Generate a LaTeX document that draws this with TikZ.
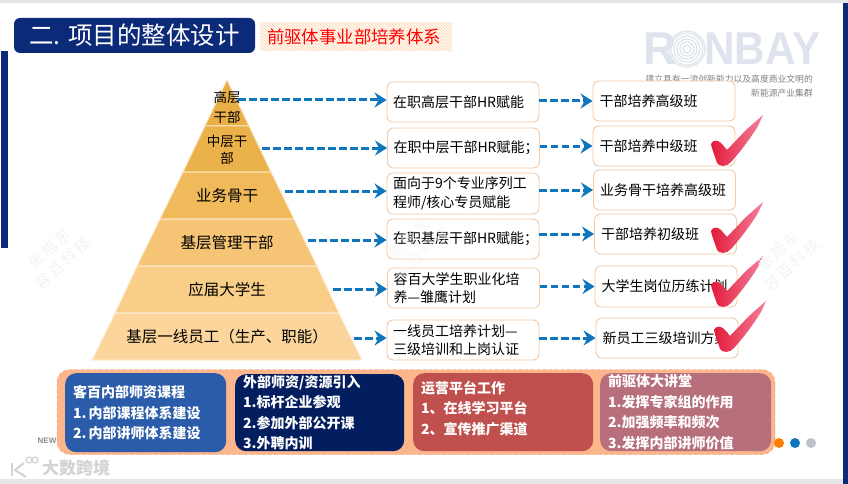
\documentclass[tikz,border=0pt]{standalone}
\usepackage{xcolor}
\usepackage{fontspec}
\setmainfont{Noto Sans CJK SC}
\newfontfamily\logofont{Liberation Sans}
\usetikzlibrary{arrows.meta,patterns}

\definecolor{navy}{HTML}{0B2A78}
\definecolor{flowblue}{HTML}{0F75BC}
\definecolor{boxedge}{HTML}{F6C9A6}
\definecolor{logogray}{HTML}{DFE3ED}
\definecolor{peach}{HTML}{FDB58B}
\definecolor{markgray}{HTML}{F3F3F3}
\definecolor{pyrA}{HTML}{E9AE45}
\definecolor{pyrB}{HTML}{EBB14A}
\definecolor{pyrC}{HTML}{F0BA5B}
\definecolor{pyrD}{HTML}{F5C475}
\definecolor{pyrE}{HTML}{F9CE88}
\definecolor{pyrF}{HTML}{FBD59B}
\definecolor{cardA}{HTML}{2A5CAA}
\definecolor{cardB}{HTML}{031E5F}
\definecolor{cardC}{HTML}{C0504D}
\definecolor{cardD}{HTML}{B7707B}
\definecolor{tickred}{HTML}{E31B3A}
\definecolor{tickpink}{HTML}{F4809A}

\newcommand{\fsize}[2]{\fontsize{#1}{#2}\selectfont}

\begin{document}
\begin{tikzpicture}[
  x=1pt, y=-1pt,
  lvl/.style={draw=#1!35!white, line width=1pt, fill=#1},
  lvltext/.style={align=center, inner sep=0pt, font=\fsize{15.5}{20}},
  planbox/.style={
    draw=boxedge,
    line width=0.9pt,
    fill=white,
    rounded corners=6pt,
    align=left,
    text width=140pt,
    minimum height=40pt,
    inner xsep=6pt,
    inner ysep=0pt,
    font=\fsize{14}{18.5}
  },
  classbox/.style={planbox, text width=129pt, inner xsep=6.5pt},
  flow/.style={
    -{Stealth[length=12pt,width=15pt,inset=4pt]},
    flowblue,
    line width=3pt,
    dash pattern=on 7.5pt off 3.5pt
  },
  teamcard/.style={
    rounded corners=11pt,
    fill=#1,
    text=white,
    align=left,
    anchor=north west,
    inner ysep=0pt,
    inner xsep=8pt,
    font=\fsize{14}{20.5}\bfseries
  },
  stamp/.style={
    rotate=42,
    text=markgray,
    align=center,
    font=\fsize{15}{20}\addfontfeature{LetterSpace=18}
  },
  redtick/.pic={
    \shade[left color=tickred, right color=tickpink, line join=round]
      (-11,-22) .. controls (-9,-27) and (-3,-26) .. (0,-22)
      -- (5,-16) -- (24,-36) -- (41,-51) -- (36,-40)
      .. controls (28,-27) and (18,-14) .. (9,-4)
      .. controls (5,1) and (-3,1) .. (-5,-3)
      .. controls (-7,-10) and (-10,-16) .. (-11,-22) -- cycle;
  }
]
  \useasboundingbox (0,0) rectangle (848,484);
  \fill[white] (0,0) rectangle (848,484);
  \fill[black!10] (0,0) rectangle (848,3);
  \fill[black!10] (0,479) rectangle (848,484);
  \fill[navy] (843,3) rectangle (848,484);
  \fill[navy] (1,51) rectangle (8,248);

  % heading
  \node[fill=navy, rounded corners=6pt, minimum width=241pt, minimum height=35pt, inner sep=0pt,
    text=white, font=\fsize{24.5}{26}] (heading) at (134.5,35.5) {二. 项目的整体设计};
  \node[pattern=north west lines, pattern color=orange!40, minimum width=192pt, minimum height=28pt,
    inner sep=0pt] (subband) at (356,37) {};
  \node[text=red, inner sep=0pt, font=\fsize{17.4}{20}] (subhead) at (354,37) {前驱体事业部培养体系};

  % logo
  \node[logogray, inner sep=0pt, font=\logofont\bfseries\fsize{46}{46}] (logoR) at (660,49) {R};
  \foreach \r in {4,7,10,13,16,18}
    \draw[logogray, line width=1.2pt] (687,49) circle (\r);
  \node[logogray, inner sep=0pt, anchor=west, transform shape, xscale=0.92,
    font=\logofont\bfseries\fsize{46}{46}] (logoNbay) at (704,49) {NBAY};
  \node[text=black!50, inner sep=0pt, anchor=north east, align=right, font=\fsize{8.8}{14}] (motto)
    at (813,75) {建立具有一流创新能力以及高度商业文明的\\新能源产业集群};

  % pyramid
  \path[lvl=pyrA] (227,80) -- (249,126) -- (205,126) -- cycle;
  \path[lvl=pyrB] (205,126) -- (249,126) -- (271,172) -- (183,172) -- cycle;
  \path[lvl=pyrC] (183,172) -- (271,172) -- (294,219) -- (160,219) -- cycle;
  \path[lvl=pyrD] (160,219) -- (294,219) -- (317,266) -- (137,266) -- cycle;
  \path[lvl=pyrE] (137,266) -- (317,266) -- (339,313) -- (115,313) -- cycle;
  \path[lvl=pyrF] (115,313) -- (339,313) -- (362,360) -- (92,360) -- cycle;

  \node[lvltext, font=\fsize{13.5}{20}] (senior) at (227,107) {高层\\干部};
  \node[lvltext, font=\fsize{13.5}{17}] (middle) at (227,150) {中层干\\部};
  \node[lvltext] (backbone) at (227,196) {业务骨干};
  \node[lvltext] (junior) at (227,243) {基层管理干部};
  \node[lvltext] (graduate) at (227,290) {应届大学生};
  \node[lvltext] (frontline) at (227,337) {基层一线员工（生产、职能）};

  \coordinate (seniorEdge) at (238,100);
  \coordinate (middleEdge) at (262,148);
  \coordinate (backboneEdge) at (285,191);
  \coordinate (juniorEdge) at (308,240);
  \coordinate (graduateEdge) at (333,289);
  \coordinate (frontlineEdge) at (354,338);

  % training plans
  \node[planbox] (seniorPlan) at (463,102) {在职高层干部HR赋能};
  \node[planbox] (middlePlan) at (463.5,148) {在职中层干部HR赋能；};
  \node[planbox, minimum height=41pt] (backbonePlan) at (463,193.5) {面向于9个专业序列工\\程师/核心专员赋能};
  \node[planbox] (juniorPlan) at (463,239) {在职基层干部HR赋能；};
  \node[planbox] (graduatePlan) at (463.5,288) {容百大学生职业化培\\养—雏鹰计划};
  \node[planbox] (frontlinePlan) at (463,340) {一线员工培养计划—\\三级培训和上岗认证};

  % classes
  \node[classbox] (seniorClass) at (664,101) {干部培养高级班};
  \node[classbox] (middleClass) at (664,146) {干部培养中级班};
  \node[classbox] (backboneClass) at (664.5,190) {业务骨干培养高级班};
  \node[classbox] (juniorClass) at (665.5,234) {干部培养初级班};
  \node[classbox, minimum height=41pt] (graduateClass) at (666,286.5) {大学生岗位历练计划};
  \node[classbox] (frontlineClass) at (667,338) {新员工三级培训方案};

  \draw[flow] (seniorEdge) -- (seniorPlan.west |- seniorEdge);
  \draw[flow] (middleEdge) -- (middlePlan.west |- middleEdge);
  \draw[flow] (backboneEdge) -- (backbonePlan.west |- backboneEdge);
  \draw[flow] (juniorEdge) -- (juniorPlan.west |- juniorEdge);
  \draw[flow] (graduateEdge) -- (graduatePlan.west |- graduateEdge);
  \draw[flow] (frontlineEdge) -- (frontlinePlan.west |- frontlineEdge);

  \draw[flow] (seniorPlan.east |- seniorClass.west) -- (seniorClass.west);
  \draw[flow] (middlePlan.east |- middleClass.west) -- (middleClass.west);
  \draw[flow] (backbonePlan.east |- backboneClass.west) -- (backboneClass.west);
  \draw[flow] (juniorPlan.east |- juniorClass.west) -- (juniorClass.west);
  \draw[flow] (graduatePlan.east |- graduateClass.west) -- (graduateClass.west);
  \draw[flow] (frontlinePlan.east |- frontlineClass.west) -- (frontlineClass.west);

  \pic at (722,166) {redtick};
  \pic at (722,253) {redtick};
  \pic at (722,307) {redtick};
  \pic at (725,352) {redtick};

  % support band
  \node[draw=brown!70!pink, fill=peach, dashed, rounded corners=13pt, minimum width=718pt, minimum height=85pt,
    inner sep=0pt] (band) at (416,412) {};
  \node[teamcard=cardA, text width=145pt, minimum height=79pt] (inhouse) at (65,373)
    {客百内部师资课程\\1.\hspace{2pt}内部课程体系建设\\2.\hspace{2pt}内部讲师体系建设};
  \node[teamcard=cardB, text width=153pt, minimum height=77pt] (external) at (235,374)
    {外部师资/资源引入\\1.标杆企业参观\\2.参加外部公开课\\3.外聘内训};
  \node[teamcard=cardC, text width=164pt, minimum height=78pt] (platform) at (413,373)
    {运营平台工作\\1、在线学习平台\\2、宣传推广渠道\\[-11pt]\mbox{}};
  \node[teamcard=cardD, text width=155pt, minimum height=78pt] (lecture) at (600,373)
    {前驱体大讲堂\\1.发挥专家组的作用\\2.加强频率和频次\\3.发挥内部讲师价值};

  \node[text=black!45, inner sep=0pt, font=\logofont\bfseries\fsize{8}{8}] (newmark) at (47,441) {NEW};
  \fill[orange] (779,443) circle (5);
  \fill[flowblue] (795,443) circle (5);
  \fill[logogray!85!black] (811,443) circle (5);

  % corner mark
  \draw[black!17, line width=2pt] (12,463) -- (12,476);
  \draw[black!17, line width=2pt] (24,463) -- (15,470) -- (26,477);
  \draw[black!17, line width=1.2pt] (29,460) circle (3) (35,460) circle (3);
  \node[text=black!17, inner sep=0pt, anchor=west, font=\fsize{17}{20}\bfseries] (cornertext) at (42,468) {大数跨境};

  % stamps
  \node[stamp] (stampL) at (56,256) {张旭东\\容百科技};
  \node[stamp, opacity=0.6] (stampM) at (415,246) {张旭东\\容百科技};
  \node[stamp] (stampR) at (785,258) {张旭东\\容百科技};
\end{tikzpicture}
\end{document}
